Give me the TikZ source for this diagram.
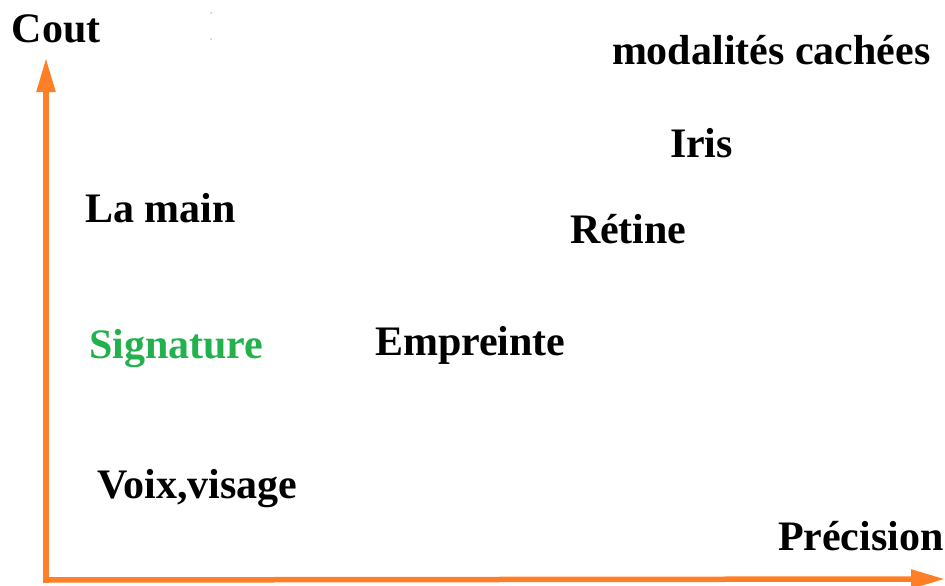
\documentclass[tikz,border=0pt]{standalone}
\usepackage{fontspec}
\setmainfont{Liberation Serif}
\usetikzlibrary{arrows.meta}
\definecolor{axisorange}{RGB}{255,127,39}
\definecolor{siggreen}{RGB}{34,177,76}
\begin{document}
\begin{tikzpicture}[x=1pt,y=-1pt,
  lbl/.style={anchor=base west,inner sep=0pt,outer sep=0pt,font=\bfseries\fontsize{42}{50}\selectfont,text=black},
  axis/.style={draw=axisorange,line width=5.5pt,-{Triangle[length=34pt,width=18pt]}}]
\useasboundingbox (0,0) rectangle (945,586);
\coordinate (o) at (46,580);
\coordinate (ytip) at (46,58);
\coordinate (xtip) at (945,579);
\draw[axis] ([yshift=-2.75pt]o) -- (ytip);
\draw[axis] ([xshift=-2.75pt]o) -- (xtip);
\fill[axisorange!60] (211,13) circle (1pt);
\fill[axisorange!60] (211,39) circle (1pt);
\node[lbl] (cout) at (12,43) {Cout};
\node[lbl] (modal) at (612,65) {modalités cachées};
\node[lbl] (iris) at (670,157) {Iris};
\node[lbl] (main) at (85,222) {La main};
\node[lbl] (retine) at (570,243) {Rétine};
\node[lbl,text=siggreen] (sig) at (89,358) {Signature};
\node[lbl] (empr) at (375,355) {Empreinte};
\node[lbl] (voix) at (97,498) {Voix,visage};
\node[lbl] (prec) at (778,550) {Précision};
\end{tikzpicture}
\end{document}
